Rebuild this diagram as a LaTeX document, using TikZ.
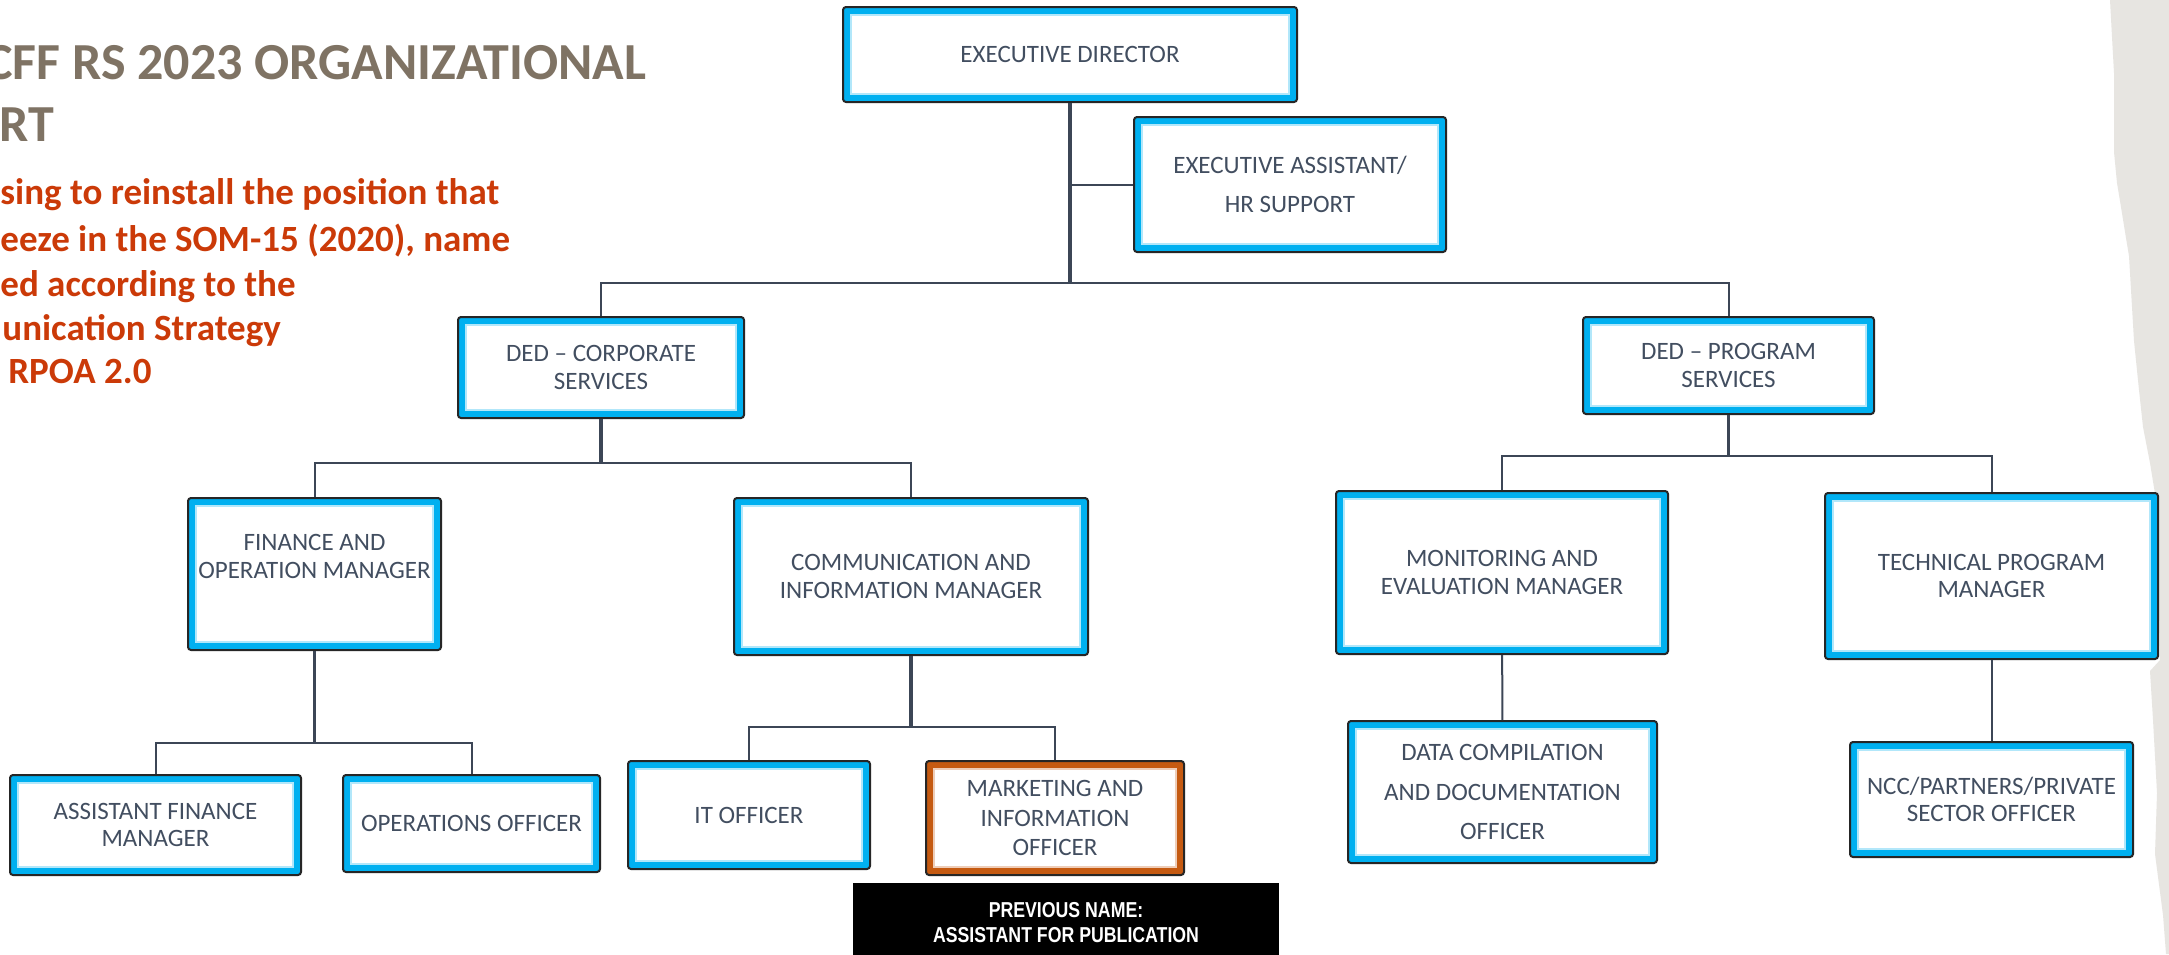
\documentclass[tikz,border=0pt]{standalone}
\usepackage{fontspec}
\setmainfont{Carlito}
\newfontfamily\notefont[FakeStretch=0.82]{Liberation Sans}
\usetikzlibrary{positioning}

\definecolor{bandblue}{RGB}{0,176,240}
\definecolor{bandorange}{RGB}{197,90,17}
\definecolor{edgedark}{RGB}{38,38,38}
\definecolor{linkgray}{RGB}{60,70,86}
\definecolor{labelgray}{RGB}{66,78,96}
\definecolor{titlegray}{RGB}{127,115,100}
\definecolor{notered}{RGB}{203,58,8}
\definecolor{paper}{RGB}{231,229,225}

\begin{document}
\begin{tikzpicture}[x=0.5pt,y=-0.5pt,
  post/.style={rectangle, rounded corners=1.5pt, draw=edgedark, line width=1pt,
    fill=#1, inner sep=0pt, align=center, text=labelgray,
    font=\fontsize{12.5}{13.6}\selectfont,
    path picture={\filldraw[fill=white, draw=#1!30, line width=0.8pt, sharp corners]
      ([shift={(4pt,-4pt)}]path picture bounding box.north west) rectangle
      ([shift={(-4pt,4pt)}]path picture bounding box.south east);}},
  post/.default=bandblue,
  wh/.style 2 args={minimum width=#1*0.5pt, minimum height=#2*0.5pt},
  link/.style={draw=linkgray, line width=1pt},
  stem/.style={draw=linkgray, line width=1.7pt},
  note/.style={anchor=base west, inner sep=0pt, text=notered,
    font=\bfseries\fontsize{18.5}{22.5}\selectfont},
  heading/.style={anchor=base west, inner sep=0pt, text=titlegray,
    font=\bfseries\fontsize{26}{31}\selectfont}]
\useasboundingbox (0,0) rectangle (2169,954);
\clip (0,0) rectangle (2169,954);
\fill[white] (0,0) rectangle (2169,954);
% torn paper edge on the right
\fill[paper] (2110,0) -- (2112,37) -- (2114,73) -- (2114,152) -- (2117,183) -- (2120,201)
  -- (2126,238) -- (2129,256) -- (2134,341) -- (2139,390) -- (2143,427) -- (2150,463)
  -- (2157,506) -- (2160,660) -- (2150,671) -- (2153,720) -- (2157,793) -- (2155,854)
  -- (2163,915) -- (2166,954) -- (2169,954) -- (2169,0) -- cycle;

% slide title and note
\node[heading] (title) at (-15,79) {CFF RS 2023 ORGANIZATIONAL};
\node[heading] (titleb) at (-1,141) {RT};
\node[note] (note1) at (0,204) {sing to reinstall the position that};
\node[note] (note2) at (0,251) {eeze in the SOM-15 (2020), name};
\node[note] (note3) at (0,296) {ed according to the};
\node[note] (note4) at (2,340) {unication Strategy};
\node[note] (note5) at (8,383) {RPOA 2.0};

% chart
\node[post, wh={454}{95}] (ed) at (1070,54.5) {EXECUTIVE DIRECTOR};
\node[post, wh={312}{135}] (ea) at (1290,184.5) {EXECUTIVE ASSISTANT/\\[6pt]HR SUPPORT};
\node[post, wh={286}{101}] (dc) at (601,367.5) {DED -- CORPORATE\\SERVICES};
\node[post, wh={291}{97}] (dp) at (1728.5,365.5) {DED -- PROGRAM\\SERVICES};
\node[post, wh={253}{152}] (fin) at (314.5,574) {FINANCE AND\\OPERATION MANAGER\\\strut};
\node[post, wh={354}{157}] (com) at (911,576.5) {COMMUNICATION AND\\INFORMATION MANAGER};
\node[post, wh={332}{163}] (me) at (1502,572.5) {MONITORING AND\\EVALUATION MANAGER};
\node[post, wh={333}{166}] (tp) at (1991.5,576) {TECHNICAL PROGRAM\\MANAGER};
\node[post, wh={291}{100}] (afm) at (155.5,825) {ASSISTANT FINANCE\\MANAGER};
\node[post, wh={257}{97}] (ops) at (471.5,823.5) {OPERATIONS OFFICER};
\node[post, wh={242}{108}] (ito) at (749,815) {IT OFFICER};
\node[post=bandorange, wh={258}{114}] (mkt) at (1055,818) {MARKETING AND\\[1pt]INFORMATION\\[1pt]OFFICER};
\node[post, wh={309}{142}] (dco) at (1502.5,792) {DATA COMPILATION\\[6pt]AND DOCUMENTATION\\[6pt]OFFICER};
\node[post, wh={283}{115}] (ncc) at (1991.5,799.5) {NCC/PARTNERS/PRIVATE\\SECTOR OFFICER};
\node[fill=black, text=white, inner sep=0pt, align=center, wh={426}{80},
  font=\notefont\bfseries\fontsize{10.8}{12.5}\selectfont] (prev) at (1066,923)
  {PREVIOUS NAME:\\ASSISTANT FOR PUBLICATION};

\coordinate (busa) at (1070,283);
\coordinate (busb) at (601,463);
\coordinate (busc) at (1728.5,456);
\coordinate (busd) at (314.5,743);
\coordinate (buse) at (911,727);

\draw[stem] (ed) -- (busa);
\draw[link] (ea.west) -- (ea.west -| busa);
\draw[link] (dc.north) |- (busa) -| (dp.north);
\draw[stem] (dc) -- (busb);
\draw[link] (fin.north) |- (busb) -| (com.north);
\draw[stem] (dp) -- (busc);
\draw[link] (me.north) |- (busc) -| (tp.north);
\draw[stem] (fin) -- (busd);
\draw[link] (afm.north) |- (busd) -| (ops.north);
\draw[stem] (com) -- (buse);
\draw[link] (ito.north) |- (buse) -| (mkt.north);
\draw[link] (me) -- (dco);
\draw[link] (tp) -- (ncc);
\end{tikzpicture}
\end{document}
